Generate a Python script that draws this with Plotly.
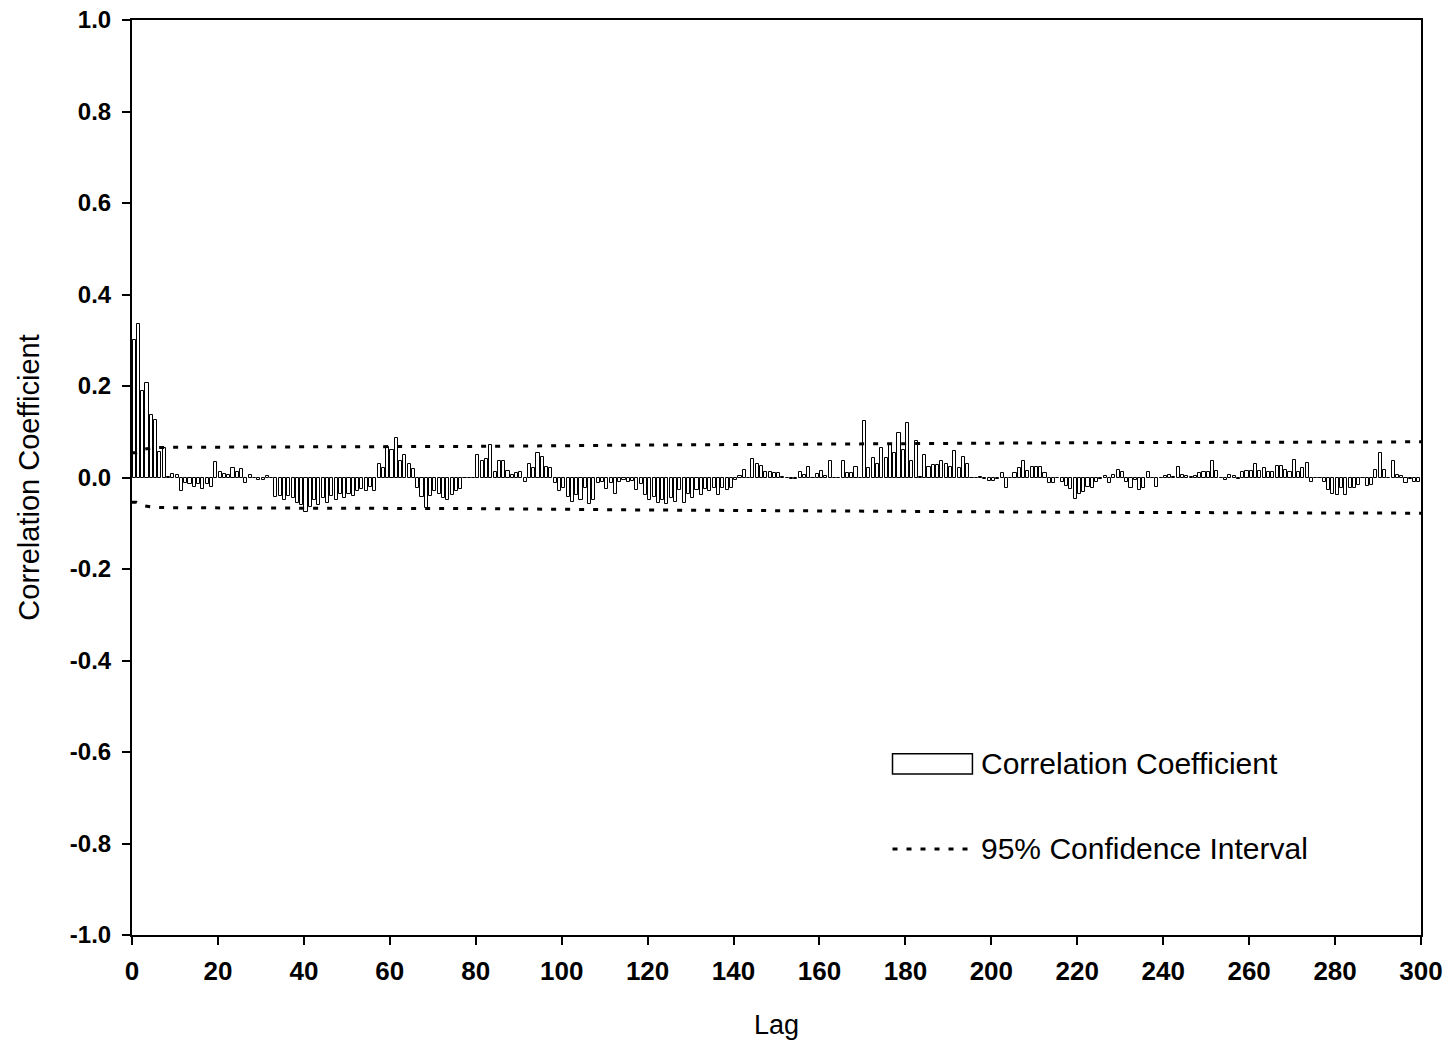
import plotly.graph_objects as go

# Lags 1..300 (each bar occupies the interval [lag-1, lag] on the axis)
lags = list(range(1, 301))

acf = [
    0.300, 0.335, 0.190, 0.206, 0.137, 0.126, 0.056, 0.065, 0.002, 0.007,
    0.006, -0.030, -0.012, -0.015, -0.020, -0.015, -0.025, -0.015, -0.020, 0.033,
    0.012, 0.008, 0.006, 0.020, 0.012, 0.018, -0.012, 0.005, 0.000, -0.005,
    -0.005, 0.003, 0.000, -0.043, -0.040, -0.050, -0.040, -0.045, -0.055, -0.060,
    -0.075, -0.065, -0.050, -0.060, -0.045, -0.055, -0.040, -0.050, -0.035, -0.045,
    -0.035, -0.040, -0.030, -0.025, -0.030, -0.020, -0.030, 0.030, 0.020, 0.067,
    0.060, 0.087, 0.035, 0.050, 0.030, 0.018, -0.024, -0.042, -0.067, -0.040,
    -0.030, -0.035, -0.045, -0.050, -0.038, -0.030, -0.025, 0.000, 0.000, 0.000,
    0.050, 0.035, 0.040, 0.070, 0.013, 0.035, 0.035, 0.015, 0.005, 0.010,
    0.013, -0.010, 0.030, 0.020, 0.053, 0.045, 0.024, 0.020, -0.012, -0.030,
    -0.024, -0.042, -0.053, -0.038, -0.050, -0.024, -0.058, -0.050, -0.013, -0.010,
    -0.026, -0.013, -0.036, -0.010, -0.005, -0.010, -0.008, -0.027, -0.015, -0.038,
    -0.050, -0.042, -0.056, -0.050, -0.058, -0.045, -0.053, -0.028, -0.056, -0.035,
    -0.045, -0.028, -0.038, -0.025, -0.030, -0.024, -0.038, -0.024, -0.027, -0.022,
    -0.005, 0.003, 0.016, 0.000, 0.040, 0.030, 0.026, 0.013, 0.013, 0.009,
    0.009, 0.002, 0.000, -0.003, -0.003, 0.013, 0.005, 0.024, 0.000, 0.008,
    0.015, 0.003, 0.035, 0.000, 0.000, 0.035, 0.010, 0.010, 0.022, 0.000,
    0.123, 0.020, 0.043, 0.030, 0.065, 0.043, 0.072, 0.053, 0.097, 0.060,
    0.120, 0.036, 0.080, 0.002, 0.050, 0.022, 0.027, 0.027, 0.037, 0.029,
    0.024, 0.057, 0.020, 0.045, 0.030, 0.000, -0.002, 0.002, -0.004, -0.008,
    -0.008, -0.004, 0.010, -0.024, 0.000, 0.010, 0.020, 0.035, 0.015, 0.022,
    0.024, 0.024, 0.009, -0.013, -0.013, -0.002, -0.009, -0.019, -0.026, -0.048,
    -0.035, -0.031, -0.021, -0.024, -0.010, -0.004, 0.003, -0.013, 0.005, 0.016,
    0.013, -0.009, -0.024, -0.005, -0.027, -0.024, 0.013, 0.000, -0.021, -0.002,
    0.003, 0.005, 0.002, 0.022, 0.005, 0.003, 0.002, 0.003, 0.010, 0.013,
    0.012, 0.036, 0.014, 0.000, -0.005, 0.005, 0.003, -0.004, 0.013, 0.014,
    0.014, 0.029, 0.014, 0.020, 0.011, 0.011, 0.025, 0.025, 0.016, 0.013,
    0.038, 0.012, 0.020, 0.031, -0.009, 0.000, -0.002, -0.010, -0.027, -0.037,
    -0.038, -0.024, -0.038, -0.022, -0.022, -0.017, 0.000, -0.019, -0.017, 0.016,
    0.053, 0.016, 0.000, 0.036, 0.005, 0.003, -0.013, -0.004, -0.009, -0.009,
]

# 95% confidence band read at a few lags
ci_lags = [0, 1, 2, 3, 5, 8, 40, 80, 120, 160, 180, 220, 260, 300]
ci_vals = [0.054, 0.054, 0.058, 0.062, 0.065, 0.066, 0.067, 0.068, 0.071,
           0.073, 0.075, 0.076, 0.077, 0.078]

x_ticks = list(range(0, 301, 20))
y_ticks = [-1.0, -0.8, -0.6, -0.4, -0.2, 0.0, 0.2, 0.4, 0.6, 0.8, 1.0]

FONT = "Liberation Sans, Arial, sans-serif"

fig = go.Figure()
fig.add_trace(go.Bar(
    x=[l - 0.5 for l in lags], y=acf, width=0.72,
    marker=dict(color="white", line=dict(color="black", width=1)),
    showlegend=False,
))
dotted = dict(color="black", width=3, dash="5px,9px")
fig.add_trace(go.Scatter(x=ci_lags, y=ci_vals, mode="lines", line=dotted,
                         showlegend=False, hoverinfo="skip"))
fig.add_trace(go.Scatter(x=ci_lags, y=[-v for v in ci_vals], mode="lines", line=dotted,
                         showlegend=False, hoverinfo="skip"))

# Manual legend
fig.add_shape(type="rect", xref="paper", yref="paper", x0=0.590, x1=0.652, y0=0.176, y1=0.198,
              line=dict(color="black", width=1.5), fillcolor="white")
fig.add_shape(type="line", xref="paper", yref="paper", x0=0.590, x1=0.655, y0=0.094, y1=0.094,
              line=dotted)
fig.add_annotation(xref="paper", yref="paper", x=0.657, y=0.187, xanchor="left", yanchor="middle",
                   text="Correlation Coefficient", showarrow=False,
                   font=dict(family=FONT, size=30, color="black"))
fig.add_annotation(xref="paper", yref="paper", x=0.657, y=0.095, xanchor="left", yanchor="middle",
                   text="95% Confidence Interval", showarrow=False,
                   font=dict(family=FONT, size=30, color="black"))

fig.update_layout(
    width=1447, height=1047,
    margin=dict(l=132, r=26, t=20, b=112),
    paper_bgcolor="white", plot_bgcolor="white",
    bargap=0,
    font=dict(family=FONT, color="black"),
)
fig.update_xaxes(
    range=[0, 300], tickvals=x_ticks, ticktext=[str(v) for v in x_ticks],
    showgrid=False, zeroline=False, automargin=False,
    showline=True, linecolor="black", linewidth=2, mirror=True,
    ticks="outside", ticklen=8, tickwidth=1.5, tickcolor="black",
    ticklabelstandoff=4,
    tickfont=dict(family=FONT, size=26, color="black", weight="bold"),
    title=dict(text="Lag", font=dict(family=FONT, size=27, color="black"), standoff=30),
)
fig.update_yaxes(
    range=[-1.0, 1.0], tickvals=y_ticks, ticktext=[f"{v:.1f}" for v in y_ticks],
    showgrid=False, zeroline=False, automargin=False,
    showline=True, linecolor="black", linewidth=2, mirror=True,
    ticks="outside", ticklen=8, tickwidth=1.5, tickcolor="black",
    ticklabelstandoff=6,
    tickfont=dict(family=FONT, size=24, color="black", weight="bold"),
    title=dict(text="Correlation Coefficient", font=dict(family=FONT, size=29, color="black"),
               standoff=22),
)

fig.write_html("out.html")
